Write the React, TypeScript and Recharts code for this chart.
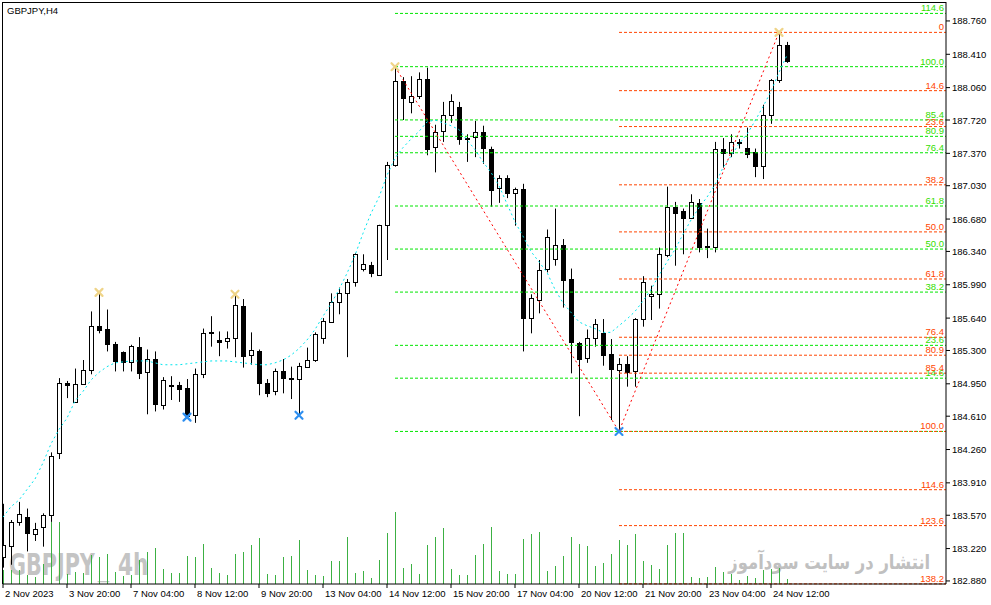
import React from 'react'
import { ComposedChart, Bar, Line, XAxis, YAxis, ReferenceLine } from 'recharts'

// GBPJPY H4, 2 Nov - 24 Nov 2023
const tickIdx = [0, 8, 16, 24, 32, 40, 48, 56, 64, 72, 80, 88, 96]
const timeLabels = ['2 Nov 2023', '3 Nov 20:00', '7 Nov 04:00', '8 Nov 12:00', '9 Nov 20:00',
  '13 Nov 04:00', '14 Nov 12:00', '15 Nov 20:00', '17 Nov 04:00', '20 Nov 12:00',
  '21 Nov 20:00', '23 Nov 04:00', '24 Nov 12:00']
const priceTicks = [188.76, 188.41, 188.06, 187.72, 187.37, 187.03, 186.68, 186.34, 185.99,
  185.64, 185.3, 184.95, 184.61, 184.26, 183.91, 183.57, 183.22, 182.88]

const opens = [
  183.13, 183.25, 183.50, 183.55, 183.38, 183.44, 183.57, 184.22, 184.96, 184.76,
  184.95, 185.10, 185.56, 185.53, 185.37, 185.28, 185.18, 185.34, 185.07, 185.21,
  184.73, 184.94, 184.94, 184.91, 184.62, 185.05, 185.49, 185.41, 185.40, 185.43,
  185.77, 185.26, 185.29, 184.96, 184.87, 185.08, 185.01, 185.00, 185.13, 185.20,
  185.43, 185.60, 185.81, 185.90, 186.02, 186.16, 186.20, 186.10, 186.62, 187.25,
  188.13, 187.91, 187.97, 188.15, 187.43, 187.60, 187.77, 187.86, 187.53, 187.54,
  187.59, 187.42, 187.00, 187.11, 186.96, 187.00, 185.64, 185.84, 186.15, 186.26,
  186.41, 186.05, 185.38, 185.22, 185.43, 185.48, 185.26, 185.10, 185.16, 185.08,
  185.63, 185.87, 185.89, 186.31, 186.81, 186.76, 186.69, 186.85, 186.40, 186.39,
  187.42, 187.37, 187.49, 187.43, 187.38, 187.23, 187.77, 188.14, 188.51,
]
const highs = [
  183.69, 183.52, 183.71, 183.64, 183.49, 183.59, 184.23, 185.01, 184.98, 185.11,
  185.20, 185.71, 185.91, 185.73, 185.39, 185.29, 185.36, 185.44, 185.31, 185.29,
  185.02, 185.03, 184.97, 185.00, 185.11, 185.53, 185.66, 185.50, 185.50, 185.89,
  185.84, 185.49, 185.31, 185.00, 185.11, 185.21, 185.13, 185.17, 185.33, 185.49,
  185.64, 185.90, 185.96, 186.05, 186.32, 186.31, 186.23, 186.62, 187.28, 188.28,
  188.17, 188.18, 188.22, 188.27, 187.67, 187.91, 187.99, 187.91, 187.57, 187.71,
  187.66, 187.44, 187.14, 187.14, 187.01, 187.05, 185.89, 186.25, 186.57, 186.79,
  186.47, 186.16, 185.39, 185.52, 185.63, 185.63, 185.42, 185.22, 185.24, 185.64,
  186.08, 185.98, 186.38, 187.02, 186.86, 186.79, 186.94, 186.89, 186.58, 187.49,
  187.53, 187.57, 187.52, 187.64, 187.42, 187.88, 188.15, 188.64, 188.54,
]
const lows = [
  183.02, 183.05, 183.46, 183.19, 183.30, 183.24, 183.50, 184.16, 184.80, 184.75,
  184.94, 185.05, 185.48, 185.29, 185.08, 185.08, 185.08, 185.00, 184.63, 184.66,
  184.68, 184.78, 184.76, 184.60, 184.54, 185.01, 185.34, 185.24, 185.32, 185.23,
  185.12, 185.15, 184.83, 184.81, 184.83, 184.85, 184.79, 184.62, 185.12, 185.18,
  185.37, 185.59, 185.68, 185.23, 185.97, 186.13, 186.07, 186.09, 186.25, 187.23,
  187.72, 187.79, 187.94, 187.35, 187.17, 187.49, 187.69, 187.46, 187.28, 187.33,
  187.26, 186.81, 186.85, 186.90, 186.61, 185.29, 185.48, 185.69, 186.12, 186.19,
  185.75, 185.06, 184.61, 185.17, 185.34, 185.14, 184.57, 184.45, 184.92, 184.92,
  185.55, 185.62, 185.74, 186.28, 186.19, 186.31, 186.68, 186.33, 186.27, 186.33,
  187.22, 187.33, 187.42, 187.32, 187.12, 187.10, 187.68, 188.11, 188.32,
]
const closes = [
  183.26, 183.50, 183.58, 183.38, 183.43, 183.57, 184.19, 184.96, 184.94, 184.95,
  185.10, 185.56, 185.52, 185.37, 185.19, 185.17, 185.35, 185.07, 185.21, 184.74,
  184.99, 184.93, 184.90, 184.62, 185.05, 185.48, 185.48, 185.39, 185.43, 185.78,
  185.24, 185.31, 184.95, 184.86, 185.08, 185.01, 185.00, 185.14, 185.20, 185.47,
  185.61, 185.81, 185.90, 186.02, 186.31, 186.21, 186.12, 186.62, 187.25, 188.13,
  187.95, 187.97, 188.15, 187.42, 187.59, 187.77, 187.92, 187.52, 187.52, 187.59,
  187.42, 186.99, 187.11, 186.95, 187.00, 185.65, 185.85, 186.15, 186.49, 186.41,
  186.04, 185.39, 185.21, 185.43, 185.58, 185.25, 185.10, 185.16, 185.08, 185.63,
  186.02, 185.89, 186.31, 186.81, 186.75, 186.69, 186.86, 186.39, 186.39, 187.42,
  187.38, 187.49, 187.48, 187.37, 187.23, 187.77, 188.14, 188.51, 188.34,
]
const volumes = [
  14, 14, 14, 9, 7, 20, 62, 62, 10, 12,
  11, 29, 27, 30, 12, 8, 9, 24, 32, 36,
  15, 11, 11, 28, 27, 40, 16, 11, 9, 30,
  32, 39, 46, 10, 9, 27, 28, 44, 14, 9,
  8, 23, 23, 47, 11, 13, 6, 24, 51, 72,
  16, 20, 10, 39, 47, 56, 15, 9, 9, 29,
  40, 57, 13, 10, 10, 45, 50, 52, 13, 18,
  28, 47, 40, 38, 18, 21, 30, 44, 39, 50,
  23, 19, 15, 39, 51, 51, 7, 6, 7, 17,
  12, 10, 4, 8, 6, 14, 15, 16, 5,
]
const maLine = [
  183.55, 183.66, 183.73, 183.84, 183.95, 184.12, 184.32, 184.47, 184.59, 184.77,
  184.87, 184.99, 185.07, 185.13, 185.17, 185.18, 185.19, 185.19, 185.19, 185.17,
  185.15, 185.15, 185.15, 185.16, 185.17, 185.18, 185.19, 185.19, 185.19, 185.18,
  185.17, 185.16, 185.15, 185.15, 185.17, 185.20, 185.25, 185.32, 185.41, 185.52,
  185.66, 185.79, 185.94, 186.11, 186.30, 186.53, 186.74, 186.91, 187.14, 187.32,
  187.43, 187.52, 187.60, 187.70, 187.72, 187.69, 187.66, 187.62, 187.51, 187.41,
  187.28, 187.17, 187.03, 186.84, 186.65, 186.50, 186.34, 186.23, 186.12, 185.94,
  185.80, 185.70, 185.60, 185.56, 185.53, 185.49, 185.49, 185.56, 185.63, 185.71,
  185.82, 185.94, 186.09, 186.23, 186.36, 186.52, 186.67, 186.80, 186.91, 187.04,
  187.22, 187.34, 187.47, 187.57, 187.71, 187.86, 188.02, 188.22, 188.40,
]

// zigzag pivots (candle index)
const peakAt = [12, 29, 49, 97]
const troughAt = [23, 37, 77]
const zigHighAt = [49, 97]
const zigLowAt = [77]

// fibonacci: green 14 Nov high -> 20 Nov low, red 24 Nov high -> 20 Nov low
const greenLevels = [0, 14.6, 23.6, 38.2, 50, 61.8, 76.4, 80.9, 85.4, 100, 114.6]
const redLevels = [0, 14.6, 23.6, 38.2, 50, 61.8, 76.4, 80.9, 85.4, 100, 114.6, 123.6, 138.2]
const greenFrom = 49
const redFrom = 77

const X_MAX = 117.875
const FONT = '"Liberation Sans", Arial, sans-serif'

const data = opens.map((open, i) => ({
  i,
  open,
  high: highs[i],
  low: lows[i],
  close: closes[i],
  vol: volumes[i],
  ma: maLine[i],
  zig: zigHighAt.includes(i) ? highs[i] : zigLowAt.includes(i) ? lows[i] : null,
  top: peakAt.includes(i) ? highs[i] : null,
  bottom: troughAt.includes(i) ? lows[i] : null,
}))

const gHigh = highs[greenFrom], fLow = lows[redFrom], rHigh = highs[97]
const greenFib = greenLevels.map(l => ({ l, p: fLow + (gHigh - fLow) * l / 100 }))
const redFib = redLevels.map(l => ({ l, p: rHigh - (rHigh - fLow) * l / 100 }))

function Candle(props: any) {
  const { x, y, width, height, payload } = props
  if (x == null || !payload) return <g />
  const top = Math.min(y, y + height)
  const h = Math.abs(height)
  const k = h / (payload.high - payload.low)
  const cx = Math.round(x + width / 2) + 0.5
  const up = payload.close >= payload.open
  const bTop = top + (payload.high - Math.max(payload.open, payload.close)) * k
  const bBot = top + (payload.high - Math.min(payload.open, payload.close)) * k
  return (
    <g>
      <line x1={cx} x2={cx} y1={top} y2={top + h} stroke='#000' strokeWidth={1} />
      <rect x={cx - 2} y={Math.round(bTop) + 0.5} width={4} height={Math.max(Math.round(bBot - bTop), 0)}
        fill={up ? '#fff' : '#000'} stroke='#000' strokeWidth={1} />
    </g>
  )
}

function VolBar(props: any) {
  const { x, y, width, height } = props
  if (x == null) return <g />
  const cx = Math.round(x + width / 2) + 0.5
  return <line x1={cx} x2={cx} y1={y} y2={y + height} stroke='#3cb043' strokeWidth={1} />
}

const mark = (color: string) => (props: any) => {
  const { cx, cy, value, index } = props
  if (value == null || cy == null) return <g key={index} />
  return (
    <g key={index} stroke={color} strokeWidth={2.2} strokeLinecap='round'>
      <line x1={cx - 3.5} y1={cy - 3.5} x2={cx + 3.5} y2={cy + 3.5} />
      <line x1={cx - 3.5} y1={cy + 3.5} x2={cx + 3.5} y2={cy - 3.5} />
    </g>
  )
}

const fibLabel = (text: string, color: string) => (props: any) => {
  const vb = props.viewBox || {}
  const x = (vb.x ?? 0) + (vb.width ?? 0) - 2
  const y = (vb.y ?? 0) - 2
  return <text x={x} y={y} textAnchor='end' fill={color} fontSize={9.5} fontFamily={FONT}>{text}</text>
}

function PriceTick(props: any) {
  const { x, y, payload } = props
  return <text x={x} y={y} dy={3.5} textAnchor='start' fontSize={9.5} fontFamily={FONT} fill='#000'>
    {Number(payload.value).toFixed(3)}</text>
}

function TimeTick(props: any) {
  const { x, y, payload } = props
  const k = tickIdx.indexOf(payload.value)
  return <text x={x + 2} y={y} dy={7} textAnchor='start' fontSize={9.5} fontFamily={FONT} fill='#000'>
    {timeLabels[k]}</text>
}

const wmStyle: React.CSSProperties = {
  position: 'absolute', fontFamily: '"DejaVu Sans", sans-serif', fontWeight: 'bold', fontSize: 30,
  color: '#c4c4c4', transformOrigin: 'left top', whiteSpace: 'nowrap', lineHeight: '34px',
}

export default function App() {
  return (
    <div style={{ position: 'absolute', left: 0, top: 0, width: 991, height: 605, background: '#fff', overflow: 'hidden' }}>
      {/* watermarks, behind the chart */}
      <div style={{ ...wmStyle, left: 9, top: 548, transform: 'scaleX(0.69)' }}>GBPJPY</div>
      <div style={{ position: 'absolute', left: 98, top: 560, fontFamily: FONT, fontSize: 20,
        color: '#c4c4c4', whiteSpace: 'nowrap', lineHeight: '22px' }}>_</div>
      <div style={{ ...wmStyle, left: 118, top: 548, transform: 'scaleX(0.72)' }}>4h</div>
      <div dir='rtl' style={{ position: 'absolute', right: 61, top: 549, fontFamily: '"DejaVu Sans", sans-serif',
        fontWeight: 'bold', fontSize: 20, color: '#c0c0c0', whiteSpace: 'nowrap', lineHeight: '26px',
        transform: 'scaleX(0.82)', transformOrigin: 'right top' }}>
        انتشار در سایت سودآموز
      </div>

      <div style={{ position: 'absolute', left: 0, top: 0 }}>
        <ComposedChart width={991} height={605} data={data} margin={{ top: 2, right: 0, bottom: 0, left: 3 }}>
          <XAxis xAxisId='x' dataKey='i' type='number' domain={[0, X_MAX]} allowDataOverflow ticks={tickIdx}
            interval={0} height={21} tickSize={4} tickLine={{ stroke: '#000' }} axisLine={{ stroke: '#000' }}
            tick={<TimeTick />} />
          <XAxis xAxisId='xv' dataKey='i' type='number' domain={[0, X_MAX]} allowDataOverflow hide />
          <YAxis yAxisId='p' orientation='right' width={45} type='number' domain={[182.848, 188.959]}
            allowDataOverflow ticks={priceTicks} interval={0} tickSize={4} tickLine={{ stroke: '#000' }}
            axisLine={{ stroke: '#000' }} tick={<PriceTick />} />
          <YAxis yAxisId='v' type='number' domain={[0, 582]} allowDataOverflow hide />

          <Bar xAxisId='xv' yAxisId='v' dataKey='vol' barSize={1} shape={<VolBar />} isAnimationActive={false} />

          {greenFib.map(f => (
            <ReferenceLine key={'g' + f.l} xAxisId='x' yAxisId='p'
              segment={[{ x: greenFrom, y: f.p }, { x: X_MAX, y: f.p }]}
              stroke='#00e600' strokeDasharray='3 2'
              label={f.l === 0 ? undefined : fibLabel(f.l.toFixed(1), '#33dd00')} />
          ))}
          {redFib.map(f => (
            <ReferenceLine key={'r' + f.l} xAxisId='x' yAxisId='p'
              segment={[{ x: redFrom, y: f.p }, { x: X_MAX, y: f.p }]}
              stroke='#ff4500' strokeDasharray='3 2' label={fibLabel(f.l === 0 ? '0' : f.l.toFixed(1), '#ff4500')} />
          ))}

          <Line xAxisId='x' yAxisId='p' dataKey='ma' stroke='#00e5ee' strokeWidth={1} strokeDasharray='2 3'
            dot={false} isAnimationActive={false} />
          <Line xAxisId='x' yAxisId='p' dataKey='zig' stroke='#ff0000' strokeWidth={1} strokeDasharray='2 3'
            connectNulls dot={false} isAnimationActive={false} />
          <Bar xAxisId='x' yAxisId='p' dataKey={(d: any) => [d.low, d.high]} barSize={6} shape={<Candle />}
            isAnimationActive={false} />
          <Line xAxisId='x' yAxisId='p' dataKey='top' stroke='none' dot={mark('#efd488')} activeDot={false}
            isAnimationActive={false} />
          <Line xAxisId='x' yAxisId='p' dataKey='bottom' stroke='none' dot={mark('#2e8ff0')} activeDot={false}
            isAnimationActive={false} />
        </ComposedChart>
      </div>

      {/* frame and title */}
      <div style={{ position: 'absolute', left: 2, top: 2, width: 944, height: 582, borderLeft: '1px solid #000',
        borderTop: '1px solid #000', boxSizing: 'border-box', pointerEvents: 'none' }} />
      <div style={{ position: 'absolute', left: 7, top: 5, fontFamily: FONT, fontSize: 9.5, lineHeight: '11px',
        color: '#000' }}>GBPJPY,H4</div>
    </div>
  )
}
